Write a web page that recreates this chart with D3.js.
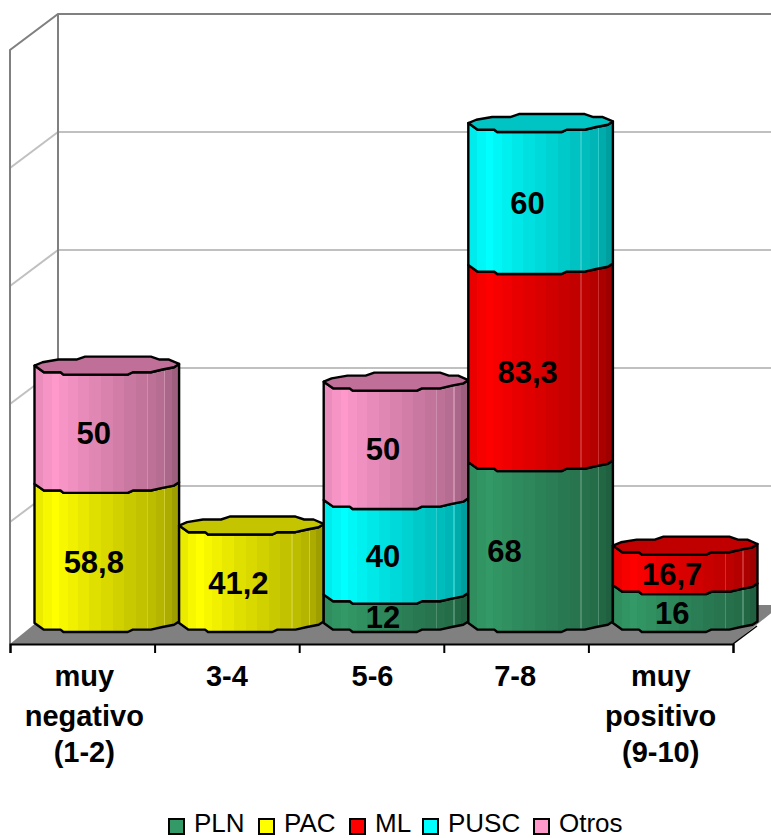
<!DOCTYPE html>
<html><head><meta charset="utf-8">
<style>html,body{margin:0;padding:0;background:#fff;overflow:hidden}svg{display:block}</style>
<script src="https://cdn.jsdelivr.net/npm/d3@7/dist/d3.min.js"></script>
</head><body><svg id="c" width="771" height="838"></svg>
<script>
const categories = ["muy negativo (1-2)", "3-4", "5-6", "7-8", "muy positivo (9-10)"];
const categoryLines = [["muy","negativo","(1-2)"],["3-4"],["5-6"],["7-8"],["muy","positivo","(9-10)"]];
const seriesNames = ["PLN","PAC","ML","PUSC","Otros"];
const PLN   = [0, 0, 12, 68, 16];
const PAC   = [58.8, 41.2, 0, 0, 0];
const ML    = [0, 0, 0, 83.3, 16.7];
const PUSC  = [0, 0, 40, 60, 0];
const Otros = [50, 0, 50, 0, 0];
const seriesValues = [PLN, PAC, ML, PUSC, Otros];
const colors = ["#339966","#ffff00","#ff0000","#00ffff","#ff99cc"];
const capColors = ["#267350","#c4c400","#c00000","#00c4c4","#c07098"];
const gridValues = [0,50,100,150,200,250];

const svg = d3.select("#c");
const defs = svg.append("defs");
const depthX = 48, depthY = 36;
const wallY = d3.scaleLinear().domain([0,250]).range([604,14]);
const barY = d3.scaleLinear().domain([0,250]).range([623,31.5]);
const barX = d3.scaleBand().domain(categories).range([34.5,757.5]);
const labX = d3.scaleBand().domain(categories).range([10,733]);

// gradients: stepped facets
const facetEdges = [0,.06,.12,.17,.23,.3,.38,.46,.54,.62,.7,.775,.785,.84,.895,.905,.95,1];
const facetShade = [.92,.97,1,.97,.94,.91,.88,.85,.82,.79,.76,1.15,.74,.71,1.05,.67,.62];
colors.forEach((c,i)=>{
  const g = defs.append("linearGradient").attr("id","g"+i).attr("x1",0).attr("x2",1).attr("y1",0).attr("y2",0);
  facetShade.forEach((s,k)=>{
    const col = d3.rgb(c);
    const out = s>1 ? d3.interpolateRgb(d3.rgb(col.r*.76,col.g*.76,col.b*.76),"#fff")(.18) : d3.rgb(col.r*s,col.g*s,col.b*s).formatRgb();
    g.append("stop").attr("offset",facetEdges[k]).attr("stop-color",out);
    g.append("stop").attr("offset",facetEdges[k+1]).attr("stop-color",out);
  });
});

// faceted ellipse outline (unit coordinates)
const frontArc = [[-1,0],[-.87,.74],[-.64,.74],[-.6,1],[.29,1],[.36,.74],[.61,.74],[.77,.44],[.93,.19],[1,-.18]];
const backArc = [[1,-.18],[.86,-.67],[.73,-.67],[.61,-1],[-.3,-1],[-.42,-.67],[-.67,-.67],[-.89,-.37],[-1,0]];
const ry = 9;

// walls
const wall = svg.append("g").attr("fill","none");
wall.selectAll("g").data(gridValues.slice(1,-1)).join("g").each(function(v){
  const g = d3.select(this);
  g.append("line").attr("x1",58).attr("x2",771).attr("y1",wallY(v)).attr("y2",wallY(v)).attr("stroke","#c0c0c0").attr("stroke-width",2);
  g.append("line").attr("x1",10).attr("x2",58).attr("y1",wallY(v)+depthY).attr("y2",wallY(v)).attr("stroke","#c0c0c0").attr("stroke-width",2);
});
const wallTop = wallY(250), wallBot = wallY(0);
wall.append("path").attr("d",`M10,${wallBot+depthY+4}V${wallTop+depthY}L58,${wallTop}H771`).attr("stroke","#808080").attr("stroke-width",2);
wall.append("line").attr("x1",58).attr("x2",58).attr("y1",wallTop).attr("y2",wallBot).attr("stroke","#808080").attr("stroke-width",2);

// floor
svg.append("polygon").attr("points",[[10,644],[733,644],[781,605],[58,605]].join(" ")).attr("fill","#808080");
svg.append("path").attr("d","M733,644L757,626").attr("stroke","#000").attr("stroke-width",1.5).attr("fill","none");

// axis
const tickScale = d3.scaleLinear().domain([0,5]).range([10,733]);
const axis = svg.append("g").attr("transform","translate(0,644)").call(
  d3.axisBottom(tickScale).ticks(5).tickFormat("").tickSize(9).tickSizeOuter(9));
axis.selectAll("path,line").attr("stroke","#000").attr("stroke-width",2);

// bars
const labelNudge = {"PLN|7-8":-23};
const labels = [];
categories.forEach((cat,ci)=>{
  const x0 = barX(cat), rx = barX.bandwidth()/2, cx = x0+rx;
  const ptAt = (p,yc)=>[cx+p[0]*rx, yc+p[1]*ry];
  let cum = 0;
  const segs = [];
  seriesNames.forEach((s,si)=>{
    const v = seriesValues[si][ci];
    if(!v) return;
    segs.push({s,si,v,y0:barY(cum),y1:barY(cum+v)});
    cum += v;
  });
  const line = d3.line();
  segs.forEach((sg,idx)=>{
    const bottom = frontArc.map(p=>ptAt(p,sg.y0));
    const topA = frontArc.map(p=>ptAt(p,sg.y1)).reverse();
    svg.append("path").attr("d",line(bottom.concat(topA))+"Z")
      .attr("fill",`url(#g${sg.si})`).attr("stroke","#000").attr("stroke-width",2.4).attr("stroke-linejoin","round");
    labels.push({t:String(sg.v).replace(".",","),x:cx-13+(labelNudge[sg.s+"|"+cat]||0),y:(sg.y0+sg.y1)/2+8.5});
    if(idx===segs.length-1){
      const outline = frontArc.concat(backArc.slice(1,-1)).map(p=>ptAt(p,sg.y1));
      svg.append("path").attr("d",line(outline)+"Z").attr("fill",capColors[sg.si])
        .attr("stroke","#000").attr("stroke-width",2.4).attr("stroke-linejoin","round");
    }
  });
});
svg.append("g").selectAll("text").data(labels).join("text")
  .attr("x",d=>d.x).attr("y",d=>d.y).attr("dy","0.36em").attr("text-anchor","middle")
  .attr("font-family","'Liberation Sans',Arial,sans-serif").attr("font-weight","bold").attr("font-size",31)
  .attr("fill","#000").text(d=>d.t);

// category labels
const lineY = [676,716,752];
const catNudge = [2,0,1,-1,0];
categories.forEach((cat,i)=>{
  categoryLines[i].forEach((l,k)=>{
    svg.append("text").attr("x",labX(cat)+labX.bandwidth()/2+catNudge[i]).attr("y",lineY[k]).attr("dy","0.36em")
      .attr("text-anchor","middle").attr("font-family","'Liberation Sans',Arial,sans-serif")
      .attr("font-weight","bold").attr("font-size",29).text(l);
  });
});

// legend
const legX = [168,258,349,422,533];
seriesNames.forEach((s,i)=>{
  svg.append("rect").attr("x",legX[i]+1).attr("y",819).attr("width",15).attr("height",15)
    .attr("fill",colors[i]).attr("stroke","#000").attr("stroke-width",2);
  svg.append("text").attr("x",legX[i]+26).attr("y",832.4).attr("font-family","'Liberation Sans',Arial,sans-serif")
    .attr("font-size",26).attr("fill","#000").text(s);
});
</script></body></html>
